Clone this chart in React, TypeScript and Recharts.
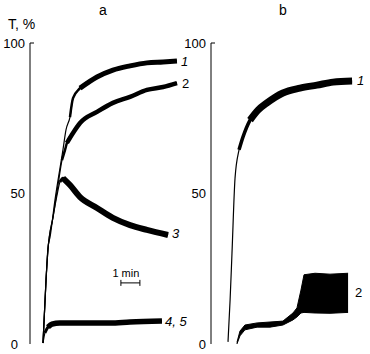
import React from 'react';
import { ComposedChart, Line, Area, XAxis, YAxis, ReferenceLine, ReferenceDot } from 'recharts';

const FONT = '"Liberation Sans", Arial, sans-serif';

const Y_TICKS = [0, 50, 100];

// panel a — time in min from start of each trace, T in %
const A1_T = [0, 0.16, 0.26, 0.37, 0.63, 1.05, 1.21, 1.42, 1.58, 1.95, 2.84, 3.68, 4.58, 5.47, 6.32, 7.05];
const A1_V = [0.3, 21.3, 31.9, 35.5, 47.8, 64.5, 71.1, 75.4, 81.7, 85.0, 88.7, 91.0, 92.4, 93.4, 93.7, 94.0];

const A2_T = [0, 0.16, 0.26, 0.53, 0.79, 1.0, 1.16, 1.26, 1.58, 1.95, 2.84, 3.68, 4.58, 5.47, 6.32, 7.05];
const A2_V = [0.3, 21.3, 31.2, 42.2, 52.8, 61.1, 64.5, 66.8, 70.1, 73.4, 77.1, 80.1, 82.1, 84.4, 85.4, 86.7];

const A3_T = [0, 0.16, 0.26, 0.53, 0.74, 0.89, 1.05, 1.42, 1.95, 2.84, 3.68, 4.58, 5.47, 6.58];
const A3_V = [0.3, 21.3, 31.2, 42.2, 49.5, 53.8, 55.1, 52.8, 48.8, 45.2, 41.9, 39.5, 37.9, 36.2];

const A45_T = [0, 0.1, 0.26, 0.47, 0.89, 1.95, 3.53, 4.58, 6.26];
const A45_V = [0.3, 3.7, 5.6, 6.6, 7.0, 7.0, 7.0, 7.3, 7.6];

// panel b
const B1_T = [0, 0.11, 0.21, 0.37, 0.58, 0.79, 1.16, 1.58, 2.05, 2.89, 3.79, 4.68, 5.53, 6.53];
const B1_V = [0.7, 14.6, 30.2, 55.1, 64.5, 68.8, 74.4, 77.7, 80.1, 83.4, 85.0, 86.0, 87.0, 87.4];

// curve b2 oscillates, so it is kept as min / max envelope
const B2_T = [0.47, 0.63, 0.89, 1.53, 2.21, 2.89, 3.42, 3.63, 3.84, 4.0, 4.58, 5.37, 6.32];
const B2_LO = [0, 2.7, 4.7, 5.6, 5.6, 6.3, 8.0, 9.0, 10.3, 10.5, 10.3, 10.2, 10.5];
const B2_HI = [0.5, 4.3, 6.3, 7.0, 7.3, 7.6, 10.3, 12.0, 17.9, 23.0, 23.5, 23.2, 23.5];

const toRows = (t: number[], v: number[]) => t.map((x, i) => ({ t: x, v: v[i] }));

const a1 = toRows(A1_T, A1_V);
const a2 = toRows(A2_T, A2_V);
const a3 = toRows(A3_T, A3_V);
const a45 = toRows(A45_T, A45_V);
const b1 = toRows(B1_T, B1_V);
const b2 = B2_T.map((x, i) => ({ t: x, range: [B2_LO[i], B2_HI[i]] }));

const last = (rows: any[]) => rows[rows.length - 1];

const AxisTick = (props: any) => {
  const { x, y, payload, zeroDx = 0 } = props;
  const v = payload.value;
  return (
    <g>
      <text x={v === 0 ? x + zeroDx : x} y={y} dy="0.35em" textAnchor="end" fontSize={13} fontFamily={FONT} fill="#000">
        {v}
      </text>
      {v === 100 && <line x1={x + 5} x2={x + 9} y1={y} y2={y} stroke="#000" />}
    </g>
  );
};

const endLabel = (text: string, dx: number, italic: boolean, dy = 0) => (p: any) => (
  <text
    x={p.cx + dx}
    y={p.cy + dy}
    dy="0.35em"
    fontSize={13}
    fontStyle={italic ? 'italic' : 'normal'}
    fontFamily={FONT}
    fill="#000"
  >
    {text}
  </text>
);

const trace = (rows: any[], w: number, key: string) => (
  <Line
    key={key}
    data={rows}
    dataKey="v"
    type="monotone"
    stroke="#000"
    strokeWidth={w}
    dot={false}
    activeDot={false}
    isAnimationActive={false}
  />
);

const yAxis = (zeroDx: number) => (
  <YAxis
    type="number"
    domain={[0, 100]}
    ticks={Y_TICKS}
    interval={0}
    width={30}
    axisLine={{ stroke: '#000' }}
    tickLine={false}
    tickSize={0}
    tickMargin={5}
    tick={(p: any) => <AxisTick {...p} zeroDx={zeroDx} />}
  />
);

export default function App() {
  return (
    <div style={{ position: 'absolute', left: 0, top: 0, width: 370, height: 354, background: '#fff' }}>
      <div style={{ position: 'absolute', left: 0, top: 0 }}>
        <ComposedChart width={200} height={354} margin={{ top: 43, right: 14, bottom: 10, left: 0 }}>
          <XAxis type="number" dataKey="t" domain={[-0.684, 7.526]} allowDataOverflow hide />
          {yAxis(-7)}
          {trace(a1, 1.2, 'a1')}
          {trace(a1.slice(7), 2.5, 'a1m')}
          {trace(a1.slice(9), 5, 'a1w')}
          {trace(a2, 1.2, 'a2')}
          {trace(a2.slice(5), 2.5, 'a2m')}
          {trace(a2.slice(7), 4.5, 'a2w')}
          {trace(a3, 1.2, 'a3')}
          {trace(a3.slice(5), 3, 'a3m')}
          {trace(a3.slice(6), 6, 'a3w')}
          {trace(a45, 1.2, 'a45')}
          {trace(a45.slice(1), 3, 'a45m')}
          {trace(a45.slice(2), 5.5, 'a45w')}
          <ReferenceDot x={last(a1).t} y={last(a1).v} r={1} shape={endLabel('1', 4, true)} />
          <ReferenceDot x={last(a2).t} y={last(a2).v} r={1} shape={endLabel('2', 5, false)} />
          <ReferenceDot x={last(a3).t} y={last(a3).v} r={1} shape={endLabel('3', 4, true, -2)} />
          <ReferenceDot x={last(a45).t} y={last(a45).v} r={1} shape={endLabel('4, 5', 3, true)} />
          {/* 1 min scale bar */}
          <ReferenceLine segment={[{ x: 4.1, y: 20.3 }, { x: 5.1, y: 20.3 }]} stroke="#000" />
          <ReferenceLine segment={[{ x: 4.1, y: 19.3 }, { x: 4.1, y: 21.3 }]} stroke="#000" />
          <ReferenceLine segment={[{ x: 5.1, y: 19.3 }, { x: 5.1, y: 21.3 }]} stroke="#000" />
          <ReferenceDot
            x={4.6}
            y={20.3}
            r={1}
            shape={(p: any) => (
              <text x={p.cx - 4.5} y={p.cy - 6} textAnchor="middle" fontSize={11} fontFamily={FONT} fill="#000">
                1 min
              </text>
            )}
          />
        </ComposedChart>
      </div>
      <div style={{ position: 'absolute', left: 181, top: 0 }}>
        <ComposedChart width={189} height={354} data={b2} margin={{ top: 43, right: 14, bottom: 10, left: 0 }}>
          <XAxis type="number" dataKey="t" domain={[-0.895, 6.737]} allowDataOverflow hide />
          {yAxis(0)}
          <Area
            dataKey="range"
            type="linear"
            stroke="#000"
            strokeWidth={1}
            fill="#000"
            fillOpacity={1}
            dot={false}
            activeDot={false}
            isAnimationActive={false}
          />
          {trace(b1, 1.2, 'b1')}
          {trace(b1.slice(4), 3.5, 'b1m')}
          {trace(b1.slice(6), 7, 'b1w')}
          <ReferenceDot x={last(b1).t} y={last(b1).v} r={1} shape={endLabel('1', 5, true)} />
          <ReferenceDot
            x={last(b2).t}
            y={(last(b2).range[0] + last(b2).range[1]) / 2}
            r={1}
            shape={endLabel('2', 7, false)}
          />
        </ComposedChart>
      </div>
      <svg width={370} height={354} style={{ position: 'absolute', left: 0, top: 0, pointerEvents: 'none' }}>
        <text x={103} y={15} textAnchor="middle" fontSize={14} fontFamily={FONT} fill="#000">a</text>
        <text x={283} y={15} textAnchor="middle" fontSize={14} fontFamily={FONT} fill="#000">b</text>
        <text x={8} y={29} fontSize={14} fontFamily={FONT} fill="#000">T, %</text>
      </svg>
    </div>
  );
}
